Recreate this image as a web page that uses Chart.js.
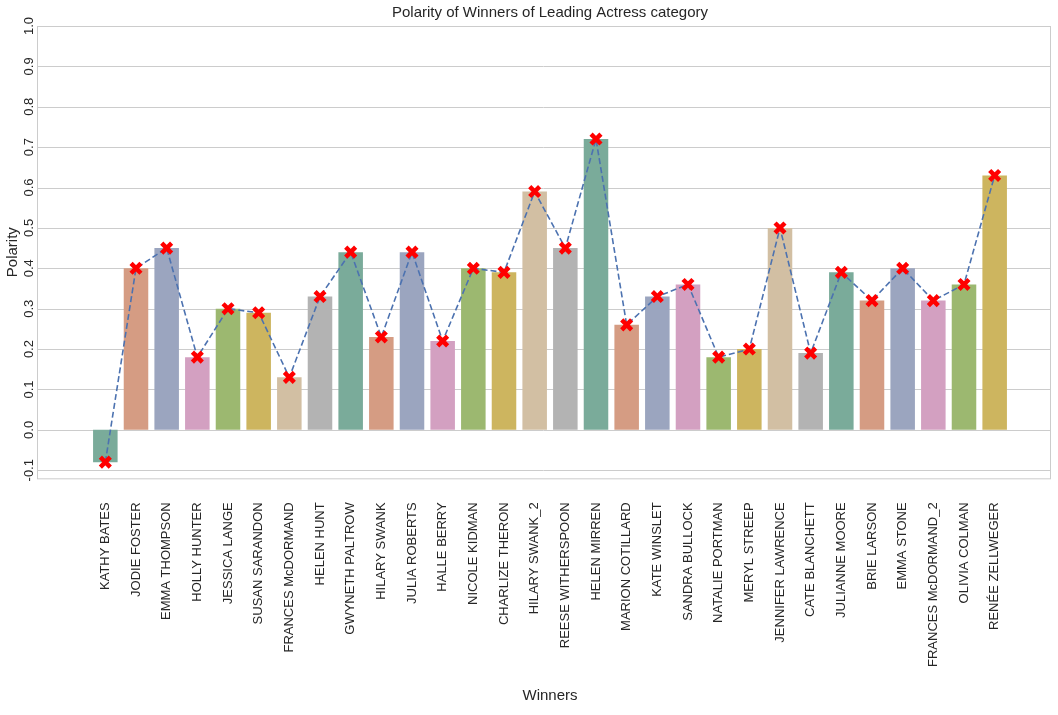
<!DOCTYPE html>
<html><head><meta charset="utf-8">
<script src="https://cdn.jsdelivr.net/npm/chart.js@4"></script>
<style>body{margin:0;background:#fff}#w{width:1058px;height:715px}</style>
</head><body><div id="w"><canvas id="c"></canvas></div>
<script>
const categories=["KATHY BATES","JODIE FOSTER","EMMA THOMPSON","HOLLY HUNTER","JESSICA LANGE","SUSAN SARANDON","FRANCES McDORMAND","HELEN HUNT","GWYNETH PALTROW","HILARY SWANK","JULIA ROBERTS","HALLE BERRY","NICOLE KIDMAN","CHARLIZE THERON","HILARY SWANK_2","REESE WITHERSPOON","HELEN MIRREN","MARION COTILLARD","KATE WINSLET","SANDRA BULLOCK","NATALIE PORTMAN","MERYL STREEP","JENNIFER LAWRENCE","CATE BLANCHETT","JULIANNE MOORE","BRIE LARSON","EMMA STONE","FRANCES McDORMAND_2","OLIVIA COLMAN","RENÉE ZELLWEGER"];
const polarity=[-0.08,0.40,0.45,0.18,0.30,0.29,0.13,0.33,0.44,0.23,0.44,0.22,0.40,0.39,0.59,0.45,0.72,0.26,0.33,0.36,0.18,0.20,0.50,0.19,0.39,0.32,0.40,0.32,0.36,0.63];
const yTicks=[-0.1,0,0.1,0.2,0.3,0.4,0.5,0.6,0.7,0.8,0.9,1.0];
const palette=["#7aab9a","#d59c83","#9ba5bf","#d3a0c1","#9cb870","#cdb55f","#d2bfa3","#b3b3b3"];
const F="'Liberation Sans', Arial, sans-serif";
const L=37,R=1050;
const frame={id:'frame',beforeDatasetsDraw(ch){const c=ch.ctx,s=ch.scales.y,a=ch.chartArea;c.save();c.strokeStyle='#cccccc';c.lineWidth=1;
yTicks.forEach(t=>{const y=Math.round(s.getPixelForValue(t))+0.5;c.beginPath();c.moveTo(L,y);c.lineTo(R,y);c.stroke();});
c.strokeRect(L+0.5,a.top+0.5,R-L,a.bottom-a.top);
c.fillStyle='#262626';c.font='13px '+F;c.textAlign='center';c.textBaseline='middle';
yTicks.forEach(t=>{const y=s.getPixelForValue(t);c.save();c.translate(29,y);c.rotate(-Math.PI/2);c.fillText(t.toFixed(1),0,0);c.restore();});
c.font='15px '+F;c.save();c.translate(13,(a.top+a.bottom)/2);c.rotate(-Math.PI/2);c.fillText('Polarity',0,0);c.restore();
c.restore();}};
new Chart(document.getElementById('c'),{
data:{labels:categories,datasets:[
{type:'line',data:polarity,borderColor:'#4c72b0',borderWidth:1.6,borderDash:[6,3],pointStyle:'crossRot',pointRadius:7,pointBorderWidth:4.5,pointBorderColor:'#ff0000',pointBackgroundColor:'#ff0000',fill:false,tension:0,order:0},
{type:'bar',data:polarity,backgroundColor:categories.map((_,i)=>palette[i%8]),categoryPercentage:1,barPercentage:0.8,order:1}]},
options:{responsive:true,maintainAspectRatio:false,animation:false,
layout:{padding:{left:90,right:48,top:0,bottom:6}},
plugins:{legend:{display:false},tooltip:{enabled:false},
title:{display:true,text:'Polarity of Winners of Leading Actress category',color:'#262626',font:{family:F,size:15,weight:'normal'},padding:{top:4,bottom:4}}},
scales:{
x:{grid:{display:false},border:{display:false},ticks:{color:'#262626',font:{family:F,size:13},minRotation:90,maxRotation:90,autoSkip:false,padding:16},
title:{display:true,text:'Winners',color:'#262626',font:{family:F,size:15},padding:{top:4}}},
y:{display:false,min:-0.12,max:1.0}}},
plugins:[frame]});
</script></body></html>
